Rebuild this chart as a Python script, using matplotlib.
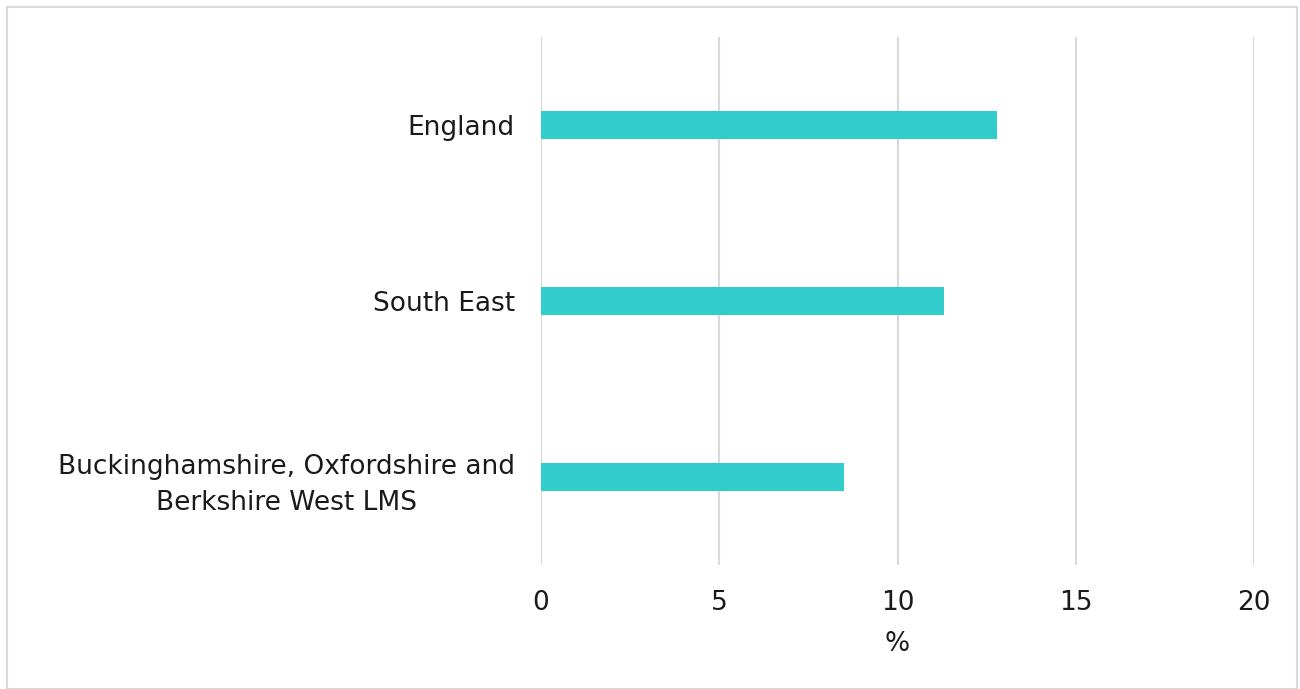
import matplotlib
matplotlib.use('Agg')
import matplotlib.pyplot as plt
from matplotlib.patches import Rectangle

# 数据
categories = ['England', 'South East',
              'Buckinghamshire, Oxfordshire and\nBerkshire West LMS']
values = [12.8, 11.3, 8.5]
x_ticks = [0, 5, 10, 15, 20]

plt.rcParams['font.family'] = ['DejaVu Sans']
FS = 19

fig = plt.figure(figsize=(13, 6.89), dpi=100)
ax = fig.add_axes([0.4162, 0.18, 0.5484, 0.7663])

pos = list(range(len(categories)))[::-1]
ax.barh(pos, values, height=0.16, color='#33CCCC', zorder=3)

ax.set_xlim(0, 20)
ax.set_ylim(-0.5, len(categories) - 0.5)
ax.set_xticks(x_ticks)
ax.set_xticklabels([str(t) for t in x_ticks], fontsize=FS, color='#1a1a1a')
ax.set_yticks(pos)
ax.set_yticklabels(categories, fontsize=FS, color='#1a1a1a',
                   multialignment='center', linespacing=1.5)
ax.tick_params(axis='both', length=0)
ax.tick_params(axis='y', pad=19)
ax.tick_params(axis='x', pad=18)
ax.grid(axis='x', color='#d9d9d9', linewidth=1.5, zorder=0)
for s in ax.spines.values():
    s.set_visible(False)
ax.set_xlabel('%', fontsize=FS, color='#1a1a1a', labelpad=11)

# 外框
fig.patches.append(Rectangle((7 / 1300, 0), 1 - 10 / 1300, 1 - 7 / 689,
                             transform=fig.transFigure, fill=False,
                             edgecolor='#d9d9d9', linewidth=1.5))

fig.savefig('out.png', dpi=100)
